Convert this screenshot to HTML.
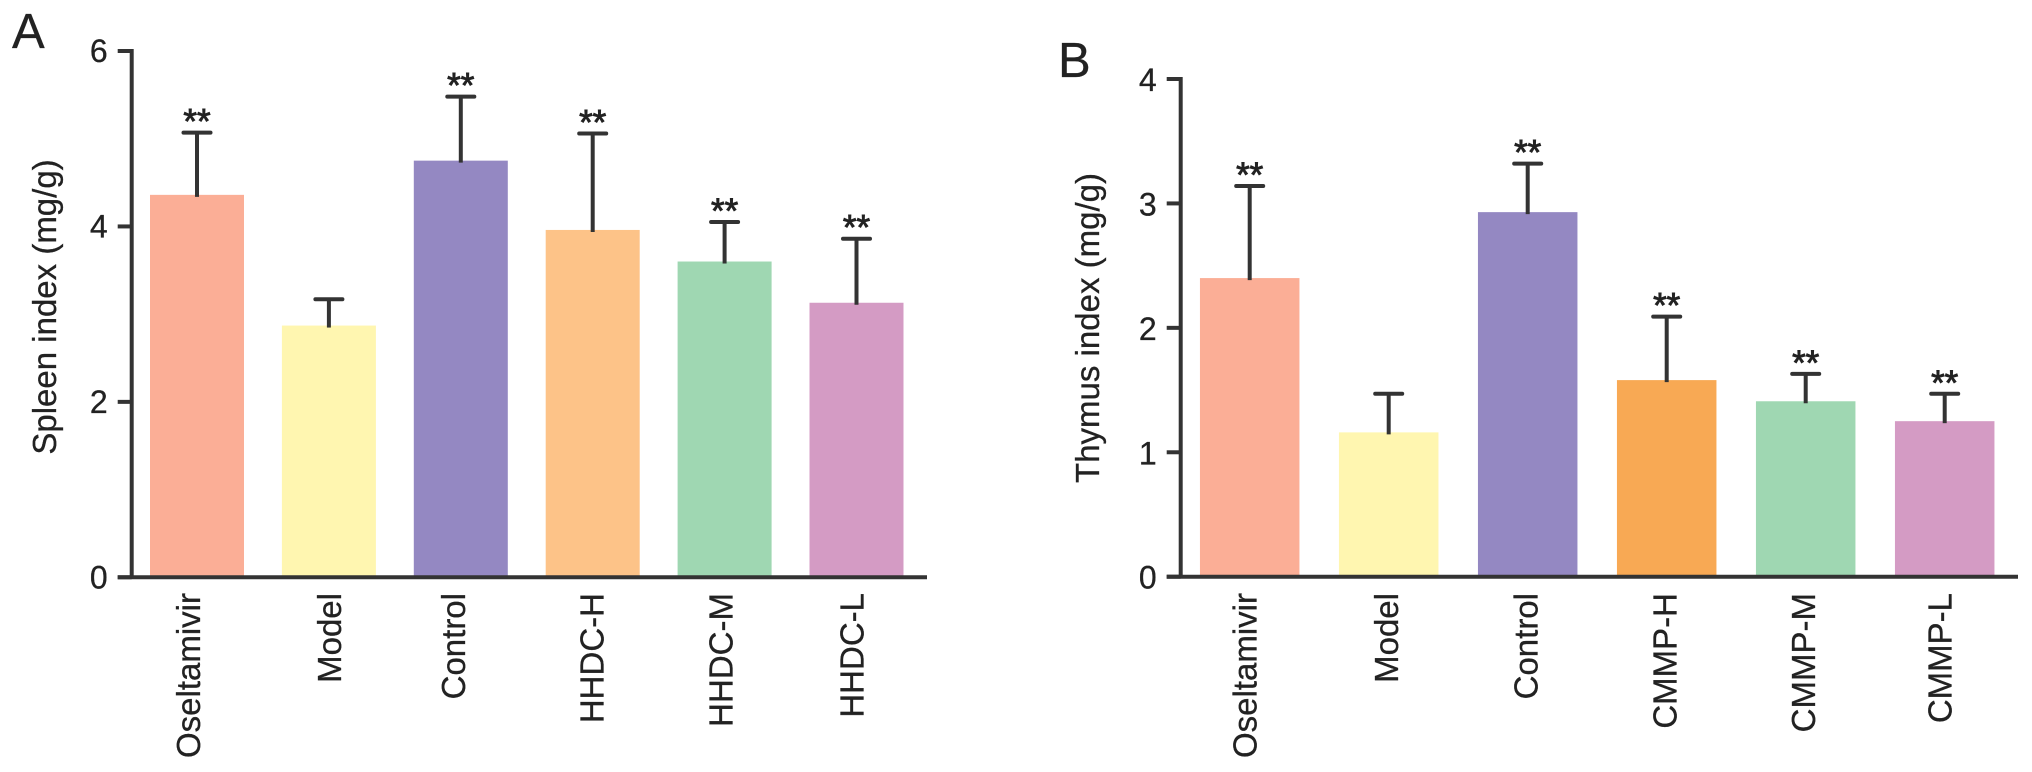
<!DOCTYPE html>
<html lang="en">
<head>
<meta charset="utf-8">
<title>Spleen and thymus index bar charts</title>
<style>
  html, body { margin: 0; padding: 0; background: #fff; }
  body { width: 2032px; height: 772px; overflow: hidden; }
  svg { display: block; }
  text { font-family: "Liberation Sans", Arial, sans-serif; fill: #222; stroke: #222; stroke-width: 0.3px; }
</style>
</head>
<body>
<svg id="figure" xmlns="http://www.w3.org/2000/svg" width="2032" height="772" viewBox="0 0 2032 772"></svg>
<script>
// Panel A data
const categoriesA = ['Oseltamivir', 'Model', 'Control', 'HHDC-H', 'HHDC-M', 'HHDC-L'];
const valuesA = [4.36, 2.87, 4.75, 3.96, 3.60, 3.13];
const errorTopsA = [5.07, 3.17, 5.48, 5.06, 4.05, 3.86];
const significanceA = ['**', '', '**', '**', '**', '**'];
const tickLabelsA = [0, 2, 4, 6];

// Panel B data
const categoriesB = ['Oseltamivir', 'Model', 'Control', 'CMMP-H', 'CMMP-M', 'CMMP-L'];
const valuesB = [2.40, 1.16, 2.93, 1.58, 1.41, 1.25];
const errorTopsB = [3.14, 1.47, 3.32, 2.09, 1.63, 1.47];
const significanceB = ['**', '', '**', '**', '**', '**'];
const tickLabelsB = [0, 1, 2, 3, 4];

// Styling (not data)
const coloursA = ['#fbae96', '#fff6b0', '#9488c2', '#fdc388', '#9fd7b2', '#d49bc4'];
const coloursB = ['#fbae96', '#fff6b0', '#9488c2', '#f8a954', '#9fd7b2', '#d49bc4'];
const labelNudgeA = [3, 12, 4, 11, 8, 7];
const labelNudgeB = [7, 9.5, 10, 10, 9.5, 7];

const SVG_NS = 'http://www.w3.org/2000/svg';
const INK = '#333333';
const figure = document.getElementById('figure');

function mk(tag, parent, attrs, content) {
  const el = document.createElementNS(SVG_NS, tag);
  for (const key in attrs) el.setAttribute(key, attrs[key]);
  if (content !== undefined) el.textContent = content;
  parent.appendChild(el);
  return el;
}

function slug(s) {
  return String(s).toLowerCase().replace(/[^a-z0-9]+/g, '-');
}

function drawPanel(cfg) {
  const group = mk('g', figure, {});
  
  

  const yScale = v => cfg.y0 - (v / cfg.yMax) * (cfg.y0 - cfg.yTop);
  const xCentre = i => cfg.firstCentre + i * cfg.pitch;

  // Bars
  cfg.categories.forEach((name, i) => {
    const top = yScale(cfg.values[i]);
    const bar = mk('rect', group, {
      x: xCentre(i) - cfg.barWidth / 2, y: top,
      width: cfg.barWidth, height: cfg.y0 - top, fill: cfg.colours[i]
    });
    
    

    // Error bar
    const errY = yScale(cfg.errorTops[i]);
    const stem = mk('line', group, {
      x1: xCentre(i), x2: xCentre(i), y1: top + 2, y2: errY,
      stroke: INK, 'stroke-width': 4
    });
    
    
    const cap = mk('line', group, {
      x1: xCentre(i) - 13.5, x2: xCentre(i) + 13.5, y1: errY, y2: errY,
      stroke: INK, 'stroke-width': 4, 'stroke-linecap': 'round'
    });
    
    

    // Significance marker
    if (cfg.significance[i]) {
      const mark = mk('text', group, {
        x: xCentre(i), y: errY + 1, 'text-anchor': 'middle',
        'font-size': 35, style: 'stroke-width:0.9px'
      }, cfg.significance[i]);
      
      
    }

    // Category label
    const lx = xCentre(i) + cfg.labelNudge[i];
    const label = mk('text', group, {
      transform: 'translate(' + lx + ' 593) rotate(-90)',
      'text-anchor': 'end', 'font-size': 33
    }, name);
    
    
  });

  // Axes
  const yAxis = mk('line', group, {
    x1: cfg.axisX, x2: cfg.axisX, y1: yScale(cfg.yMax) - 2, y2: cfg.y0,
    stroke: INK, 'stroke-width': 4
  });
  
  
  const xAxis = mk('line', group, {
    x1: cfg.axisX - 14, x2: cfg.axisEnd, y1: cfg.y0, y2: cfg.y0,
    stroke: INK, 'stroke-width': 4
  });
  
  

  // Y ticks
  cfg.ticks.forEach(t => {
    const ty = yScale(t);
    const tick = mk('line', group, {
      x1: cfg.axisX - 14, x2: cfg.axisX, y1: ty, y2: ty,
      stroke: INK, 'stroke-width': 4
    });
    
    
    const tickText = mk('text', group, {
      x: cfg.axisX - 24, y: ty + cfg.tickTextDy, 'text-anchor': 'end', 'font-size': 32
    }, t);
    
    
  });

  // Y axis title
  const title = mk('text', group, {
    transform: 'translate(' + cfg.titleX + ' ' + cfg.titleY + ') rotate(-90)',
    'text-anchor': 'middle', 'font-size': 33
  }, cfg.title);
  
  

  // Panel letter
  const letter = mk('text', group, {
    x: cfg.letterX, y: cfg.letterY, 'font-size': 49
  }, cfg.letter);
  
  
}

drawPanel({
  id: 'spleen-index', categories: categoriesA, values: valuesA, errorTops: errorTopsA,
  significance: significanceA, ticks: tickLabelsA, colours: coloursA, labelNudge: labelNudgeA,
  yMax: 6, y0: 577.3, yTop: 51, axisX: 131.7, axisEnd: 927,
  firstCentre: 197, pitch: 131.9, barWidth: 94, tickTextDy: 11,
  title: 'Spleen index (mg/g)', titleX: 56, titleY: 307,
  letter: 'A', letterX: 12, letterY: 48
});

drawPanel({
  id: 'thymus-index', categories: categoriesB, values: valuesB, errorTops: errorTopsB,
  significance: significanceB, ticks: tickLabelsB, colours: coloursB, labelNudge: labelNudgeB,
  yMax: 4, y0: 576.7, yTop: 79, axisX: 1180.7, axisEnd: 2018,
  firstCentre: 1249.7, pitch: 139, barWidth: 99.5, tickTextDy: 12,
  title: 'Thymus index (mg/g)', titleX: 1099, titleY: 328,
  letter: 'B', letterX: 1058, letterY: 77
});
</script>
</body>
</html>
